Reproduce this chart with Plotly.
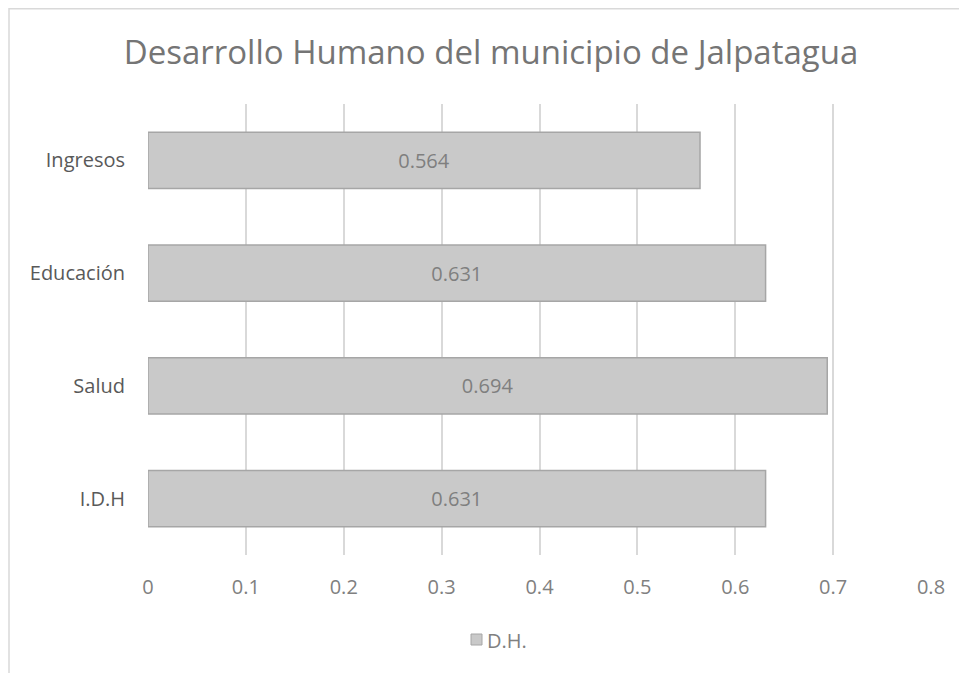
import plotly.graph_objects as go

# Data
categories = ["I.D.H", "Salud", "Educación", "Ingresos"]
values = [0.631, 0.694, 0.631, 0.564]
value_labels = ["0.631", "0.694", "0.631", "0.564"]
series_name = "D.H."
tick_vals = [0, 0.1, 0.2, 0.3, 0.4, 0.5, 0.6, 0.7, 0.8]
tick_text = ["0", "0.1", "0.2", "0.3", "0.4", "0.5", "0.6", "0.7", "0.8"]

font_family = "Open Sans, Noto Sans, sans-serif"
grey_text = "#808080"
bar_fill = "#c9c9c9"
bar_edge = "#a6a6a6"
border = "#d9d9d9"

# page body has an 8px margin, so the figure is sized to fit the window
W, H = 959, 665
L, R, T, B = 140, 36, 96, 118
PW, PH = W - L - R, H - T - B


def px(x):
    # figure pixel -> paper x
    return (x - L) / PW


def py(y):
    # figure pixel (from top) -> paper y
    return (H - B - y) / PH


fig = go.Figure()

fig.add_trace(go.Bar(
    x=values,
    y=categories,
    orientation="h",
    name=series_name,
    text=value_labels,
    textposition="inside",
    insidetextanchor="middle",
    textfont=dict(color="#7f7f7f", size=20, family=font_family),
    marker=dict(color=bar_fill, line=dict(color=bar_edge, width=1.5)),
    hoverinfo="x+y",
    showlegend=False,
))

# chart area border (only top and left edges show in the reference)
fig.add_shape(type="line", xref="paper", yref="paper",
              x0=px(1), x1=px(W), y0=py(0.75), y1=py(0.75),
              line=dict(color=border, width=1.5))
fig.add_shape(type="line", xref="paper", yref="paper",
              x0=px(1), x1=px(1), y0=py(0), y1=py(H),
              line=dict(color=border, width=1.5))

# legend: small square + series name
fig.add_shape(type="rect", xref="paper", yref="paper",
              x0=px(463), x1=px(474), y0=py(637), y1=py(626),
              fillcolor=bar_fill, line=dict(color=bar_edge, width=1))
fig.add_annotation(xref="paper", yref="paper", x=px(477), y=py(632),
                   text=series_name, showarrow=False,
                   xanchor="left", yanchor="middle",
                   font=dict(size=20, color=grey_text, family=font_family))

fig.update_layout(
    width=W,
    height=H,
    margin=dict(l=L, r=R, t=T, b=B),
    paper_bgcolor="white",
    plot_bgcolor="white",
    bargap=0.5,
    title=dict(
        text="Desarrollo Humano del municipio de Jalpatagua",
        x=483 / W, xanchor="center",
        y=1 - 44 / H, yanchor="middle",
        font=dict(size=33, color="#757575", family=font_family),
    ),
    xaxis=dict(
        range=[0, 0.8],
        tickvals=tick_vals,
        ticktext=tick_text,
        showgrid=True,
        gridcolor=border,
        gridwidth=1.5,
        zeroline=False,
        showline=False,
        ticks="",
        ticklabelstandoff=18,
        tickfont=dict(size=20, color=grey_text, family=font_family),
        fixedrange=True,
    ),
    yaxis=dict(
        showgrid=False,
        zeroline=False,
        showline=False,
        ticks="",
        ticklabelstandoff=22,
        tickfont=dict(size=20, color="#595959", family=font_family),
        fixedrange=True,
    ),
    showlegend=False,
)

fig.write_html("out.html")
